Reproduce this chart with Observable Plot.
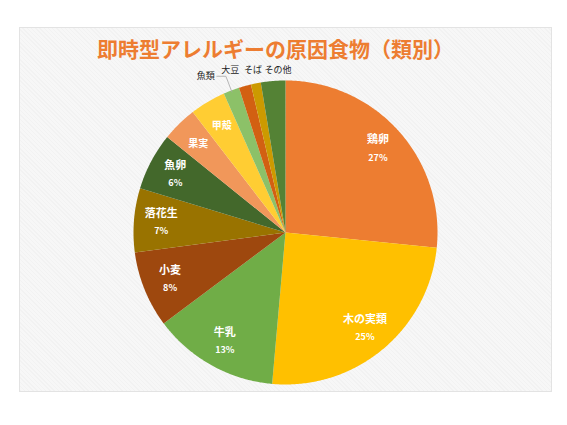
<!DOCTYPE html>
<html>
<head>
<meta charset="utf-8">
<script src="https://cdn.jsdelivr.net/npm/d3@7"></script>
<script src="https://cdn.jsdelivr.net/npm/@observablehq/plot@0.6"></script>
<style>
  body { margin: 0; background: #fff; font-family: "Noto Sans CJK JP", sans-serif; }
  #panel {
    position: absolute; left: 19px; top: 27px; width: 533px; height: 365px;
    box-sizing: border-box; border: 1px solid #e3e3e3;
    background: repeating-linear-gradient(45deg, #f2f2f2 0 1px, #f7f7f7 1px 3px);
  }
  #title {
    position: absolute; left: -10px; top: 10px; width: 531px; text-align: center;
    font-size: 21px; line-height: 21px; font-weight: bold; color: #ED7D31;
  }
  #chart { position: absolute; left: 0; top: 0; }
  #chart svg { background: transparent; overflow: visible; }
</style>
</head>
<body>
<div id="panel">
  <div id="chart"></div>
  <div id="title">即時型アレルギーの原因食物（類別）</div>
</div>
<script>
// 食物ごとの割合（%）
const foods  = ["鶏卵", "木の実類", "牛乳", "小麦", "落花生", "魚卵", "果実", "甲殻", "魚類", "大豆", "そば", "その他"];
const shares = [26.6, 24.8, 13.4, 8.1, 6.8, 6.1, 3.75, 3.8, 1.7, 1.3, 1.05, 2.6];
const colors = ["#ED7D31", "#FFC000", "#70AD47", "#9E480E", "#997300", "#43682B",
                "#F1975A", "#FFCD33", "#8CC168", "#D26012", "#CC9A00", "#548235"];

// 中に名前を書く扇形、％も書く扇形
const inside = ["鶏卵", "木の実類", "牛乳", "小麦", "落花生", "魚卵", "果実", "甲殻"];
const withPct = ["鶏卵", "木の実類", "牛乳", "小麦", "落花生", "魚卵"];
const topLabels = ["大豆", "そば", "その他"];

const rows = foods.map((f, i) => ({food: f, share: shares[i]}));
const arcs = d3.pie().sort(null).value(d => d.share)(rows);

// 12時から時計回り、y は下向き
const pt = (a, r) => [r * Math.sin(a), -r * Math.cos(a)];

const slices = arcs.map(a => {
  const ring = [[0, 0]];
  const n = Math.max(2, Math.ceil((a.endAngle - a.startAngle) / 0.01));
  for (let k = 0; k <= n; k++) ring.push(pt(a.startAngle + (a.endAngle - a.startAngle) * k / n, 1));
  ring.push([0, 0]);
  return {type: "Feature", properties: {food: a.data.food}, geometry: {type: "Polygon", coordinates: [ring]}};
});

const mids = arcs.map(a => ({food: a.data.food, share: a.data.share, mid: (a.startAngle + a.endAngle) / 2}));

const inLabels = mids.filter(d => inside.includes(d.food)).map(d => {
  const [x, y] = pt(d.mid, 0.82);
  return {...d, x, y};
});
const pctLabels = inLabels.filter(d => withPct.includes(d.food));
const nameOnly = inLabels.filter(d => !withPct.includes(d.food));

const fish = mids.find(d => d.food === "魚類");
const fishA = pt(fish.mid, 0.99), fishB = pt(fish.mid, 1.1);
const fishC = [fishB[0] - 0.06, fishB[1]];
const leader = {type: "Feature", geometry: {type: "LineString", coordinates: [fishA, fishB, fishC]}};

// 上の小さい扇形のラベルは一列に並べ、重ならないよう左右にずらす
const spread = {"大豆": -0.07, "そば": 0, "その他": 0.04};
const outLabels = mids.filter(d => topLabels.includes(d.food)).map(d => {
  const [x] = pt(d.mid, 1.1);
  return {...d, x: x + spread[d.food], y: -1.07};
});

const chart = Plot.plot({
  width: 531,
  height: 363,
  marginLeft: 113,
  marginRight: 114,
  marginTop: 52,
  marginBottom: 7,
  projection: {type: "identity", clip: false, domain: {type: "MultiPoint", coordinates: [[-1, -1], [1, 1]]}},
  color: {domain: foods, range: colors},
  style: {fontFamily: "'Noto Sans CJK JP', sans-serif", background: "transparent", overflow: "visible"},
  marks: [
    Plot.geo(slices, {fill: d => d.properties.food, stroke: "none"}),
    Plot.geo([leader], {stroke: "#a6a6a6", strokeWidth: 0.8}),
    Plot.text(pctLabels, {x: "x", y: "y", text: "food", fill: "white", fontWeight: "bold",
      fontSize: 11, dy: -9}),
    Plot.text(pctLabels, {x: "x", y: "y", text: d => `${Math.round(d.share)}%`,
      fill: "white", fontWeight: "bold", fontSize: 9, dy: 9}),
    Plot.text(nameOnly, {x: "x", y: "y", text: "food", fill: "white", fontWeight: "bold", fontSize: 10}),
    Plot.text([fish], {x: () => fishC[0], y: () => fishC[1], text: "food", textAnchor: "end",
      dx: -2, fill: "#222", fontSize: 9}),
    Plot.text(outLabels, {x: "x", y: "y", text: "food", fill: "#222", fontSize: 9})
  ]
});

d3.select("#chart").append(() => chart);
</script>
</body>
</html>
